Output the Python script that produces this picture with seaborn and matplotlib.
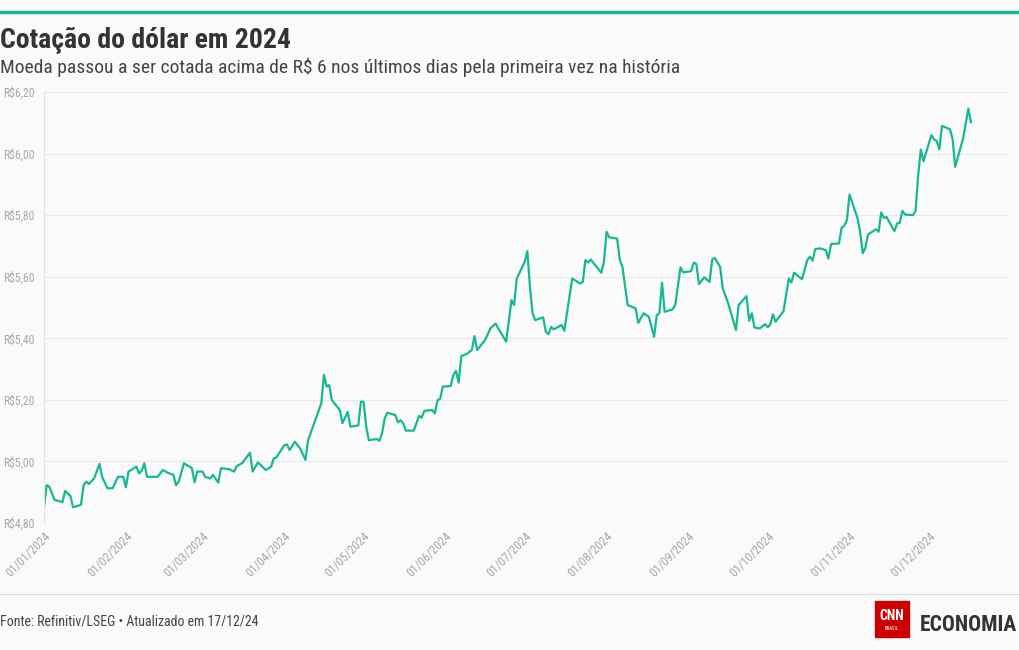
import pandas as pd
import seaborn as sns
import matplotlib.pyplot as plt
import matplotlib.dates as mdates
from matplotlib import font_manager
from matplotlib.patches import Rectangle
from matplotlib.lines import Line2D

# cotação do dólar (R$)
datas = [
    "2024-01-01", "2024-01-02", "2024-01-03", "2024-01-05", "2024-01-08", "2024-01-09", "2024-01-11",
    "2024-01-12", "2024-01-15", "2024-01-16", "2024-01-17", "2024-01-18", "2024-01-20", "2024-01-22",
    "2024-01-23", "2024-01-25", "2024-01-27", "2024-01-29", "2024-01-31",
    "2024-02-01", "2024-02-02", "2024-02-05", "2024-02-06", "2024-02-07", "2024-02-08", "2024-02-09",
    "2024-02-13", "2024-02-15", "2024-02-17", "2024-02-19", "2024-02-20", "2024-02-21", "2024-02-23",
    "2024-02-26", "2024-02-27", "2024-02-28",
    "2024-03-01", "2024-03-02", "2024-03-04", "2024-03-05", "2024-03-07", "2024-03-08", "2024-03-11",
    "2024-03-13", "2024-03-14", "2024-03-16", "2024-03-19", "2024-03-20", "2024-03-22", "2024-03-25",
    "2024-03-27", "2024-03-28", "2024-03-29",
    "2024-04-01", "2024-04-02", "2024-04-03", "2024-04-05", "2024-04-07", "2024-04-09", "2024-04-10",
    "2024-04-15", "2024-04-16", "2024-04-17", "2024-04-18", "2024-04-19", "2024-04-22", "2024-04-23",
    "2024-04-25", "2024-04-26", "2024-04-29", "2024-04-30",
    "2024-05-01", "2024-05-02", "2024-05-03", "2024-05-06", "2024-05-07", "2024-05-08", "2024-05-09",
    "2024-05-10", "2024-05-13", "2024-05-14", "2024-05-15", "2024-05-16", "2024-05-17", "2024-05-20",
    "2024-05-22", "2024-05-23", "2024-05-24", "2024-05-27", "2024-05-28", "2024-05-29", "2024-05-30",
    "2024-05-31",
    "2024-06-03", "2024-06-04", "2024-06-05", "2024-06-06", "2024-06-07", "2024-06-09", "2024-06-11",
    "2024-06-12", "2024-06-13", "2024-06-16", "2024-06-18", "2024-06-20", "2024-06-21", "2024-06-24",
    "2024-06-26", "2024-06-27", "2024-06-28",
    "2024-07-01", "2024-07-02", "2024-07-03", "2024-07-04", "2024-07-05", "2024-07-08", "2024-07-09",
    "2024-07-10", "2024-07-11", "2024-07-12", "2024-07-15", "2024-07-16", "2024-07-19", "2024-07-22",
    "2024-07-23", "2024-07-24", "2024-07-25", "2024-07-26", "2024-07-29", "2024-07-30", "2024-07-31",
    "2024-08-01", "2024-08-02", "2024-08-05", "2024-08-06", "2024-08-07", "2024-08-09", "2024-08-12",
    "2024-08-13", "2024-08-15", "2024-08-17", "2024-08-19", "2024-08-20", "2024-08-21", "2024-08-22",
    "2024-08-23", "2024-08-26", "2024-08-27", "2024-08-29", "2024-08-30",
    "2024-09-02", "2024-09-03", "2024-09-04", "2024-09-05", "2024-09-07", "2024-09-09", "2024-09-10",
    "2024-09-11", "2024-09-13", "2024-09-14", "2024-09-16", "2024-09-19", "2024-09-20", "2024-09-23",
    "2024-09-24", "2024-09-25", "2024-09-26", "2024-09-28", "2024-09-30",
    "2024-10-01", "2024-10-02", "2024-10-03", "2024-10-04", "2024-10-07", "2024-10-09", "2024-10-10",
    "2024-10-11", "2024-10-14", "2024-10-16", "2024-10-17", "2024-10-18", "2024-10-19", "2024-10-21",
    "2024-10-23", "2024-10-24", "2024-10-25", "2024-10-28", "2024-10-29", "2024-10-30", "2024-10-31",
    "2024-11-01", "2024-11-04", "2024-11-05", "2024-11-06", "2024-11-07", "2024-11-08", "2024-11-11",
    "2024-11-12", "2024-11-13", "2024-11-14", "2024-11-15", "2024-11-18", "2024-11-19", "2024-11-20",
    "2024-11-21", "2024-11-22", "2024-11-25", "2024-11-26", "2024-11-27", "2024-11-28", "2024-11-29",
    "2024-12-02", "2024-12-03", "2024-12-04", "2024-12-05", "2024-12-06", "2024-12-09", "2024-12-10",
    "2024-12-11", "2024-12-14", "2024-12-16", "2024-12-17",
]
cotacao = [
    4.851, 4.923, 4.918, 4.875, 4.868, 4.904, 4.888,
    4.851, 4.859, 4.923, 4.934, 4.927, 4.945, 4.992,
    4.950, 4.913, 4.913, 4.950, 4.950,
    4.916, 4.967, 4.983, 4.961, 4.970, 4.994, 4.950,
    4.950, 4.972, 4.963, 4.956, 4.923, 4.934, 4.994,
    4.978, 4.932, 4.967,
    4.967, 4.950, 4.945, 4.956, 4.931, 4.978, 4.975,
    4.967, 4.985, 4.994, 5.028, 4.967, 4.997, 4.972,
    4.983, 5.010, 5.013,
    5.053, 5.055, 5.037, 5.064, 5.042, 5.005, 5.069,
    5.189, 5.281, 5.243, 5.248, 5.199, 5.167, 5.124,
    5.161, 5.113, 5.117, 5.194,
    5.194, 5.113, 5.069, 5.073, 5.067, 5.091, 5.140,
    5.158, 5.151, 5.127, 5.134, 5.124, 5.100, 5.100,
    5.148, 5.142, 5.164, 5.167, 5.156, 5.199, 5.203,
    5.243,
    5.245, 5.281, 5.294, 5.256, 5.342, 5.349, 5.362,
    5.407, 5.362, 5.394, 5.432, 5.448, 5.432, 5.389,
    5.524, 5.508, 5.594,
    5.648, 5.683, 5.567, 5.481, 5.459, 5.468, 5.421,
    5.413, 5.437, 5.429, 5.443, 5.424, 5.594, 5.578,
    5.583, 5.654, 5.646, 5.656, 5.624, 5.613, 5.648,
    5.746, 5.728, 5.724, 5.656, 5.632, 5.508, 5.497,
    5.450, 5.481, 5.470, 5.405, 5.475, 5.481, 5.581,
    5.486, 5.494, 5.508, 5.630, 5.614,
    5.618, 5.646, 5.641, 5.576, 5.598, 5.583, 5.656,
    5.661, 5.632, 5.562, 5.515, 5.427, 5.508, 5.537,
    5.457, 5.481, 5.435, 5.432, 5.446,
    5.436, 5.445, 5.478, 5.454, 5.488, 5.594, 5.581,
    5.613, 5.592, 5.654, 5.665, 5.652, 5.690, 5.692,
    5.686, 5.659, 5.706, 5.708, 5.759, 5.765, 5.784,
    5.867, 5.791, 5.746, 5.676, 5.694, 5.737, 5.754,
    5.746, 5.809, 5.791, 5.794, 5.748, 5.773, 5.775,
    5.814, 5.802, 5.800, 5.813, 5.930, 6.013, 5.975,
    6.060, 6.046, 6.041, 6.014, 6.090, 6.079, 6.049,
    5.957, 6.049, 6.146, 6.101,
]
yticks = [4.8, 5.0, 5.2, 5.4, 5.6, 5.8, 6.0, 6.2]
meses = pd.date_range("2024-01-01", "2024-12-01", freq="MS")

titulo = "Cotação do dólar em 2024"
subtitulo = "Moeda passou a ser cotada acima de R\\$ 6 nos últimos dias pela primeira vez na história"
fonte = "Fonte: Refinitiv/LSEG • Atualizado em 17/12/24"

df = pd.DataFrame({"data": pd.to_datetime(datas), "cotacao": cotacao})

verde = "#16b893"
fundo = "#fafafa"

# fonte estreita se houver alguma instalada
nomes = {f.name for f in font_manager.fontManager.ttflist}
estreita = None
for n in ["Roboto Condensed", "Liberation Sans Narrow", "DejaVu Sans Condensed", "Open Sans Condensed"]:
    if n in nomes:
        estreita = n
        break
condensado = estreita is not None
fam = ([estreita] if condensado else []) + ["Roboto", "DejaVu Sans"]
k = 1.0 if condensado else 0.89  # compensa a largura quando não há fonte estreita

sns.set_style("white")
plt.rcParams["font.family"] = fam

fig = plt.figure(figsize=(10.2, 6.5), dpi=100, facecolor=fundo)
W, H = 1020, 650
ax = fig.add_axes([44 / W, (H - 523) / H, (1008 - 44) / W, (523 - 92) / H])
ax.set_facecolor(fundo)

sns.lineplot(data=df, x="data", y="cotacao", ax=ax, color=verde, linewidth=1.6)

ax.set_ylim(4.8, 6.2)
ax.set_xlim(pd.Timestamp("2024-01-01"), pd.Timestamp("2024-12-31"))
ax.set_yticks(yticks)
ax.set_yticklabels(["R\\$" + f"{v:.2f}".replace(".", ",") for v in yticks])
ax.set_xticks(meses)
ax.xaxis.set_major_formatter(mdates.DateFormatter("%d/%m/%Y"))
ax.set_xlabel("")
ax.set_ylabel("")

ax.grid(axis="y", color="#e8e8e8", linewidth=0.8)
for s in ["top", "right", "bottom"]:
    ax.spines[s].set_visible(False)
ax.spines["left"].set_color("#e3e3e3")
ax.spines["left"].set_linewidth(0.8)
ax.tick_params(axis="y", length=5, color="#dddddd", labelsize=8.5 * k, labelcolor="#a8a8a8", pad=2)
ax.tick_params(axis="x", length=4, color="#dddddd", labelsize=8.8 * k, labelcolor="#a8a8a8", pad=1)
for lb in ax.get_xticklabels():
    lb.set_rotation(45)
    lb.set_ha("right")
    lb.set_rotation_mode("anchor")

# barra verde no topo e separador do rodapé
fig.add_artist(Line2D([0, 1], [1 - 12 / H, 1 - 12 / H], color=verde, linewidth=2.5))
fig.add_artist(Line2D([0, 1], [1 - 594 / H, 1 - 594 / H], color="#dddddd", linewidth=0.8))

fig.text(0, 1 - 48 / H, titulo, fontsize=20 if condensado else 18, fontweight="bold",
         color="#333333", va="baseline")
fig.text(0, 1 - 73 / H, subtitulo, fontsize=14 if condensado else 12.4, color="#444444", va="baseline")
fig.text(0, 1 - 625 / H, fonte, fontsize=10 if condensado else 9.3, color="#444444", va="baseline")

# logo CNN Economia
fig.add_artist(Rectangle((875 / W, 1 - 637 / H), 34 / W, 36 / H, color="#cc0000"))
fig.text(892 / W, 1 - 620 / H, "CNN", fontsize=10 if condensado else 9, fontweight="bold",
         color="white", ha="center", va="baseline")
fig.text(892 / W, 1 - 630 / H, "BRASIL", fontsize=3.5, color="white", ha="center", va="baseline")
fig.text(1017 / W, 1 - 631 / H, "ECONOMIA", fontsize=15.5 if condensado else 12, fontweight="bold",
         color="#333333", ha="right", va="baseline")

fig.savefig("out.png", dpi=100, facecolor=fundo)
